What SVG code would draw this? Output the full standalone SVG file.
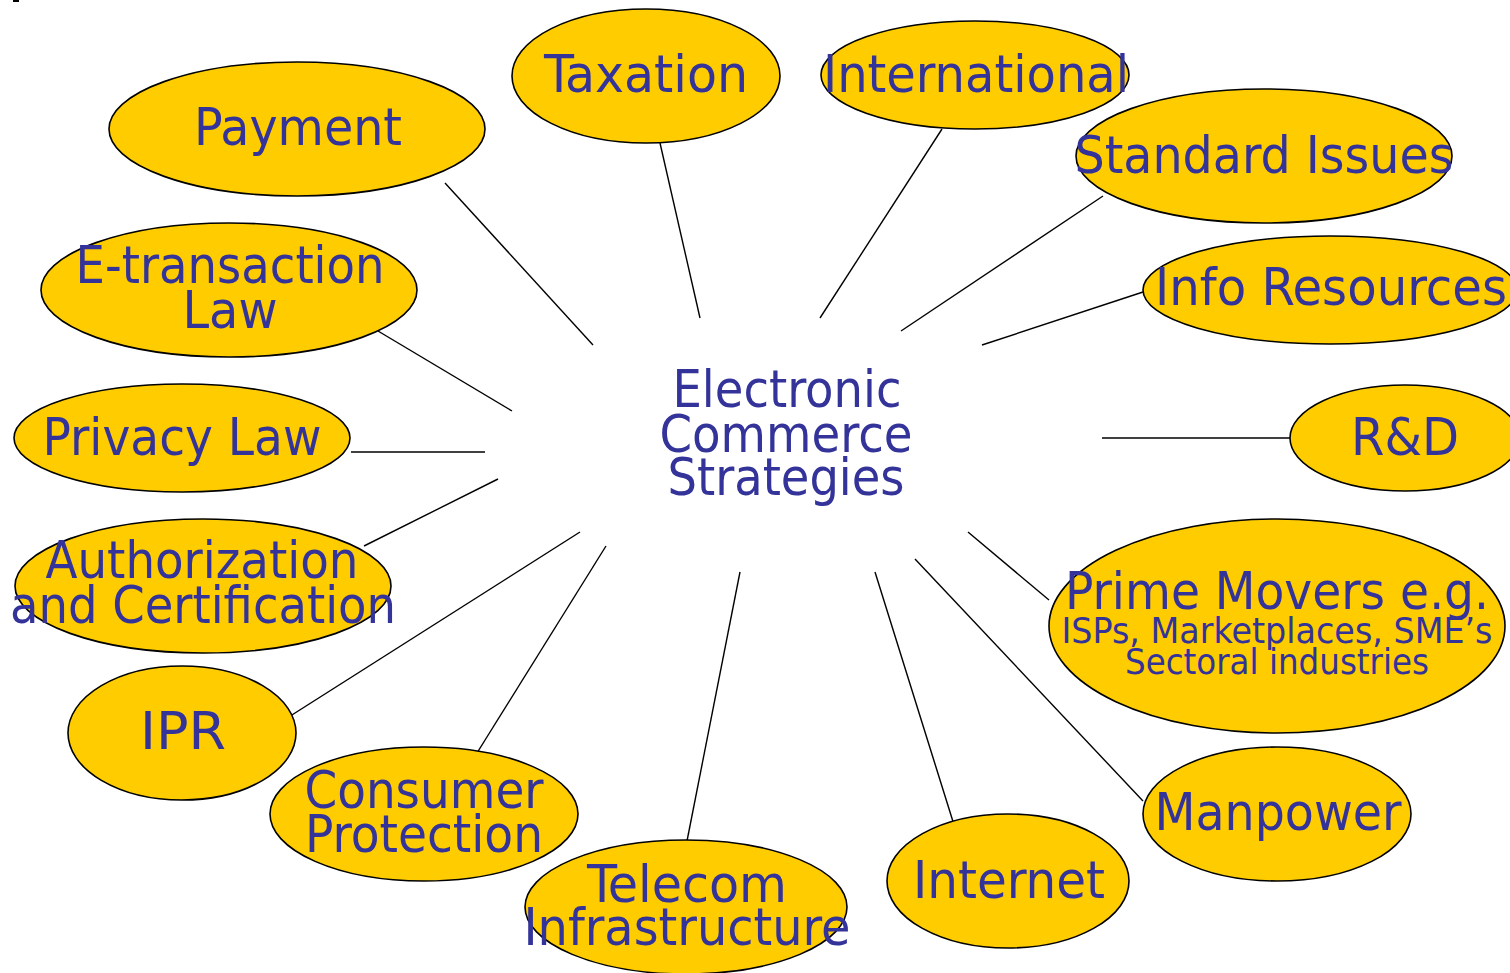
<svg xmlns="http://www.w3.org/2000/svg" width="1510" height="973" viewBox="0 0 1510 973">
<style>
.n{fill:#FFCC00;stroke:#000;stroke-width:1.6}
.t{font-family:"DejaVu Sans Condensed","DejaVu Sans",sans-serif;font-stretch:condensed;font-size:52px;fill:#333399;text-anchor:middle}
.s{font-size:35px}
.c line{stroke:#000;stroke-width:1.4}
</style>
<rect x="13" y="0" width="6" height="2" fill="#000"/>
<g class="c" id="connectors">
<line x1="445" y1="183" x2="593" y2="345"/>
<line x1="660" y1="143" x2="700" y2="318"/>
<line x1="942" y1="129" x2="820" y2="318"/>
<line x1="1103" y1="196" x2="901" y2="331"/>
<line x1="1143" y1="292" x2="982" y2="345"/>
<line x1="1102" y1="438" x2="1291" y2="438"/>
<line x1="968" y1="532" x2="1049" y2="600"/>
<line x1="915" y1="559" x2="1143" y2="801"/>
<line x1="875" y1="572" x2="955" y2="828"/>
<line x1="740" y1="572" x2="687" y2="841"/>
<line x1="606" y1="546" x2="472" y2="761"/>
<line x1="580" y1="532" x2="284" y2="720"/>
<line x1="498" y1="479" x2="364" y2="546"/>
<line x1="351" y1="452" x2="485" y2="452"/>
<line x1="378" y1="331" x2="512" y2="411"/>
</g>
<g id="center"><text class="t" x="787" y="407" textLength="229" lengthAdjust="spacingAndGlyphs">Electronic</text><text class="t" x="786" y="452" textLength="253" lengthAdjust="spacingAndGlyphs">Commerce</text><text class="t" x="786" y="495" textLength="237" lengthAdjust="spacingAndGlyphs">Strategies</text></g>
<g id="payment"><ellipse class="n" cx="297" cy="129" rx="188" ry="67"/><text class="t" x="298" y="145" textLength="208" lengthAdjust="spacingAndGlyphs">Payment</text></g>
<g id="taxation"><ellipse class="n" cx="646" cy="76" rx="134" ry="67"/><text class="t" x="646" y="92" textLength="204" lengthAdjust="spacingAndGlyphs">Taxation</text></g>
<g id="international"><ellipse class="n" cx="975" cy="75" rx="154" ry="54"/><text class="t" x="976" y="92" textLength="306" lengthAdjust="spacingAndGlyphs">International</text></g>
<g id="standard"><ellipse class="n" cx="1264" cy="156" rx="188" ry="67"/><text class="t" x="1264" y="173" textLength="379" lengthAdjust="spacingAndGlyphs">Standard Issues</text></g>
<g id="info"><ellipse class="n" cx="1330" cy="290" rx="187" ry="54"/><text class="t" x="1331" y="305" textLength="352" lengthAdjust="spacingAndGlyphs">Info Resources</text></g>
<g id="rd"><ellipse class="n" cx="1405" cy="438" rx="115" ry="53"/><text class="t" x="1405" y="455" textLength="108" lengthAdjust="spacingAndGlyphs">R&amp;D</text></g>
<g id="prime"><ellipse class="n" cx="1277" cy="626" rx="228" ry="107"/><text class="t" x="1277" y="609" textLength="424" lengthAdjust="spacingAndGlyphs">Prime Movers e.g.</text><text class="t s" x="1277" y="643" textLength="431" lengthAdjust="spacingAndGlyphs">ISPs, Marketplaces, SME’s</text><text class="t s" x="1277" y="674" textLength="304" lengthAdjust="spacingAndGlyphs">Sectoral industries</text></g>
<g id="manpower"><ellipse class="n" cx="1277" cy="814" rx="134" ry="67"/><text class="t" x="1278" y="830" textLength="247" lengthAdjust="spacingAndGlyphs">Manpower</text></g>
<g id="internet"><ellipse class="n" cx="1008" cy="881" rx="121" ry="67"/><text class="t" x="1009" y="898" textLength="192" lengthAdjust="spacingAndGlyphs">Internet</text></g>
<g id="telecom"><ellipse class="n" cx="686" cy="907" rx="161" ry="67"/><text class="t" x="687" y="902" textLength="200" lengthAdjust="spacingAndGlyphs">Telecom</text><text class="t" x="687" y="945" textLength="327" lengthAdjust="spacingAndGlyphs">Infrastructure</text></g>
<g id="consumer"><ellipse class="n" cx="424" cy="814" rx="154" ry="67"/><text class="t" x="424" y="808" textLength="239" lengthAdjust="spacingAndGlyphs">Consumer</text><text class="t" x="424" y="852" textLength="238" lengthAdjust="spacingAndGlyphs">Protection</text></g>
<g id="ipr"><ellipse class="n" cx="182" cy="733" rx="114" ry="67"/><text class="t" x="183" y="749" textLength="86" lengthAdjust="spacingAndGlyphs">IPR</text></g>
<g id="auth"><ellipse class="n" cx="203" cy="586" rx="188" ry="67"/><text class="t" x="202" y="578" textLength="313" lengthAdjust="spacingAndGlyphs">Authorization</text><text class="t" x="203" y="623" textLength="386" lengthAdjust="spacingAndGlyphs">and Certification</text></g>
<g id="privacy"><ellipse class="n" cx="182" cy="438" rx="168" ry="54"/><text class="t" x="182" y="455" textLength="279" lengthAdjust="spacingAndGlyphs">Privacy Law</text></g>
<g id="etrans"><ellipse class="n" cx="229" cy="290" rx="188" ry="67"/><text class="t" x="230" y="283" textLength="309" lengthAdjust="spacingAndGlyphs">E-transaction</text><text class="t" x="230" y="328" textLength="95" lengthAdjust="spacingAndGlyphs">Law</text></g>
</svg>
